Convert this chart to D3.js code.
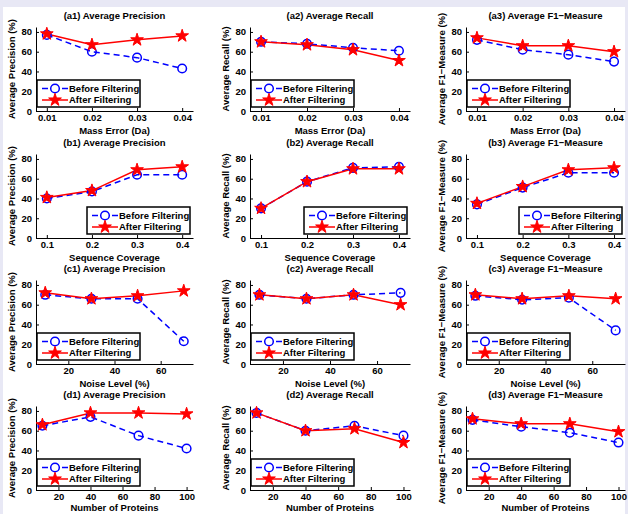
<!DOCTYPE html>
<html>
<head>
<meta charset="utf-8">
<script src="https://cdn.jsdelivr.net/npm/d3@7"></script>
<style>
  body { margin: 0; background: #e8e8f5; }
  svg { display: block; }
</style>
</head>
<body>
<svg id="chart"></svg>
<script>
// x values for each row of panels
const massError = [0.01, 0.02, 0.03, 0.04];
const coverage = [0.1, 0.2, 0.3, 0.4];
const noiseLevel = [10, 30, 50, 70];
const proteins = [10, 40, 70, 100];

// tick labels
const massTicks = [0.01, 0.02, 0.03, 0.04];
const coverageTicks = [0.1, 0.2, 0.3, 0.4];
const noiseTicks = [20, 40, 60];
const proteinTicks = [20, 40, 60, 80, 100];
const yTicks = [0, 20, 40, 60, 80];

// series values (before / after filtering)
const a1Before = [77, 60, 54, 43], a1After = [78, 67, 72, 76];
const a2Before = [70, 68, 64, 61], a2After = [70, 67, 62, 51];
const a3Before = [72, 62, 57, 50], a3After = [74, 66, 66, 60];
const b1Before = [40, 47, 64, 64], b1After = [41, 48, 69, 72];
const b2Before = [30, 57, 71, 72], b2After = [30, 57, 70, 70];
const b3Before = [34, 51, 66, 66], b3After = [35, 52, 69, 71];
const c1Before = [70, 66, 66, 23], c1After = [72, 66, 69, 74];
const c2Before = [70, 66, 70, 72], c2After = [70, 66, 70, 60];
const c3Before = [69, 65, 67, 34], c3After = [70, 66, 69, 66];
const d1Before = [65, 74, 55, 42], d1After = [66, 78, 78, 77];
const d2Before = [78, 60, 65, 55], d2After = [78, 60, 62, 48];
const d3Before = [71, 64, 58, 48], d3After = [72, 67, 67, 59];

const metrics = ["Average Precision", "Average Recall", "Average F1\u2212Measure"];
const yLabels = ["Average Precision (%)", "Average Recall (%)", "Average F1\u2212Measure (%)"];

const rows = [
  { tag: "a", xlabel: "Mass Error (Da)", x: massError, ticks: massTicks, fmt: d3.format(".2f"),
    domain: [0.0076, 0.0424], legend: "left", before: [a1Before, a2Before, a3Before], after: [a1After, a2After, a3After] },
  { tag: "b", xlabel: "Sequence Coverage", x: coverage, ticks: coverageTicks, fmt: d3.format(".1f"),
    domain: [0.076, 0.424], legend: "right", before: [b1Before, b2Before, b3Before], after: [b1After, b2After, b3After] },
  { tag: "c", xlabel: "Noise Level (%)", x: noiseLevel, ticks: noiseTicks, fmt: d3.format("d"),
    domain: [6, 74], legend: "left", before: [c1Before, c2Before, c3Before], after: [c1After, c2After, c3After] },
  { tag: "d", xlabel: "Number of Proteins", x: proteins, ticks: proteinTicks, fmt: d3.format("d"),
    domain: [6, 104], legend: "left", before: [d1Before, d2Before, d3Before], after: [d1After, d2After, d3After] }
];

const width = 628, height = 514;
const colLeft = [36, 250, 466];
const colWidth = [157, 160, 159];
const rowBottom = [111, 238, 364, 490];
const labelOffset = [23, 23, 23, 20.5];
const plotH = 84;

const font = "'Liberation Sans', Arial, sans-serif";
const blue = "#0000ff", red = "#ff0000";
const star = d3.symbol().type(d3.symbolStar).size(50);

const svg = d3.select("#chart")
    .attr("width", width)
    .attr("height", height)
    .style("font-family", font)
    .style("font-weight", "bold")
    .style("font-size", "9.5px");

svg.append("rect")
    .attr("x", 3).attr("y", 7)
    .attr("width", 622).attr("height", height - 7)
    .attr("fill", "#fff");

function panel(row, r, c) {
  const left = colLeft[c], w = colWidth[c];
  const bottom = rowBottom[r], top = bottom - plotH;

  const x = d3.scaleLinear().domain(row.domain).range([left, left + w]);
  const y = d3.scaleLinear().domain([0, 85]).range([bottom, top]);

  const g = svg.append("g");

  // axes: MATLAB style, ticks pointing inward
  g.append("g")
      .attr("transform", `translate(0,${bottom})`)
      .call(d3.axisBottom(x).tickValues(row.ticks).tickFormat(row.fmt).tickSizeInner(-3).tickSizeOuter(0).tickPadding(3))
      .call(a => a.select(".domain").attr("stroke", "#000"))
      .call(a => a.selectAll("text").attr("font-family", font).attr("font-size", 9.5).attr("font-weight", "bold").attr("fill", "#000"));

  g.append("g")
      .attr("transform", `translate(${left},0)`)
      .call(d3.axisLeft(y).tickValues(yTicks).tickSizeInner(-3).tickSizeOuter(0).tickPadding(4))
      .call(a => a.select(".domain").attr("stroke", "#000"))
      .call(a => a.selectAll("text").attr("font-family", font).attr("font-size", 9.5).attr("font-weight", "bold").attr("fill", "#000"));

  g.append("text")
      .attr("x", left + w / 2)
      .attr("y", top - 11)
      .attr("dy", "0.35em")
      .attr("text-anchor", "middle")
      .text(`(${row.tag}${c + 1}) ${metrics[c]}`);

  g.append("text")
      .attr("x", left + w / 2)
      .attr("y", bottom + labelOffset[r])
      .attr("text-anchor", "middle")
      .text(row.xlabel);

  g.append("text")
      .attr("transform", `translate(${left - 24},${(top + bottom) / 2}) rotate(-90)`)
      .attr("dy", "0.35em")
      .attr("text-anchor", "middle")
      .text(yLabels[c]);

  const line = d3.line().x((d, i) => x(row.x[i])).y(d => y(d));

  g.append("path")
      .attr("d", line(row.before[c]))
      .attr("fill", "none")
      .attr("stroke", blue)
      .attr("stroke-width", 1.5)
      .attr("stroke-dasharray", "6,4");

  g.append("path")
      .attr("d", line(row.after[c]))
      .attr("fill", "none")
      .attr("stroke", red)
      .attr("stroke-width", 1.5);

  g.selectAll(".before")
    .data(row.before[c])
    .join("circle")
      .attr("class", "before")
      .attr("cx", (d, i) => x(row.x[i]))
      .attr("cy", d => y(d))
      .attr("r", 4.3)
      .attr("fill", "none")
      .attr("stroke", blue)
      .attr("stroke-width", 1.5);

  g.selectAll(".after")
    .data(row.after[c])
    .join("path")
      .attr("class", "after")
      .attr("transform", (d, i) => `translate(${x(row.x[i])},${y(d)})`)
      .attr("d", star)
      .attr("fill", red)
      .attr("stroke", red)
      .attr("stroke-width", 1);

  // legend box
  const lw = 103, lh = 27;
  const lx = row.legend === "left" ? left + 1 : left + w - 3 - lw;
  const ly = bottom - 4 - lh;
  const lg = g.append("g").attr("transform", `translate(${lx},${ly})`);

  lg.append("rect")
      .attr("width", lw).attr("height", lh)
      .attr("fill", "#fff")
      .attr("stroke", "#000")
      .attr("stroke-width", 1.5);

  lg.append("line")
      .attr("x1", 5).attr("x2", 31).attr("y1", 8.5).attr("y2", 8.5)
      .attr("stroke", blue).attr("stroke-width", 1.5).attr("stroke-dasharray", "6,4");
  lg.append("circle")
      .attr("cx", 18).attr("cy", 8.5).attr("r", 4.3)
      .attr("fill", "#fff").attr("stroke", blue).attr("stroke-width", 1.5);
  lg.append("text")
      .attr("x", 32).attr("y", 8.5).attr("dy", "0.35em")
      .text("Before Filtering");

  lg.append("line")
      .attr("x1", 5).attr("x2", 31).attr("y1", 20).attr("y2", 20)
      .attr("stroke", red).attr("stroke-width", 1.5);
  lg.append("path")
      .attr("transform", "translate(18,20)")
      .attr("d", star)
      .attr("fill", red).attr("stroke", red);
  lg.append("text")
      .attr("x", 32).attr("y", 20).attr("dy", "0.35em")
      .text("After Filtering");
}

rows.forEach((row, r) => {
  [0, 1, 2].forEach(c => panel(row, r, c));
});
</script>
</body>
</html>
